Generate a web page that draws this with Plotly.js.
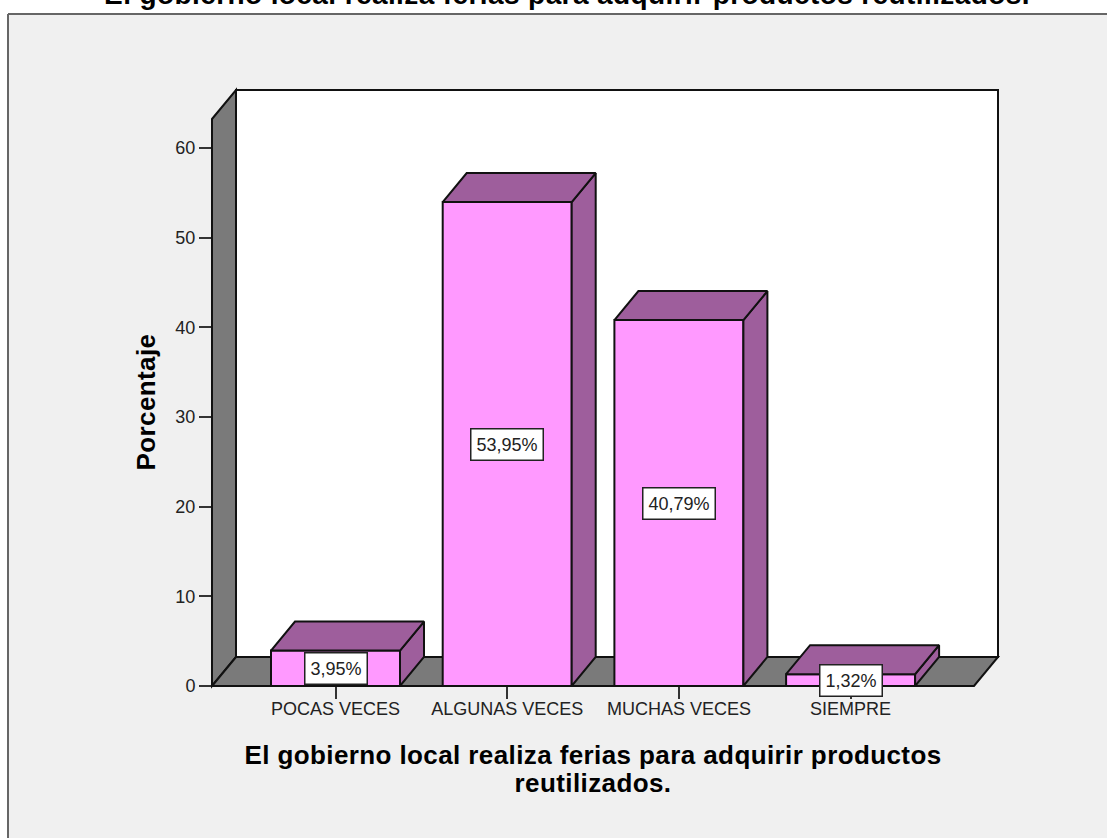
<!DOCTYPE html>
<html>
<head>
<meta charset="utf-8">
<script src="https://cdn.plot.ly/plotly-3.0.1.min.js"></script>
<style>
html,body{margin:0;padding:0;background:#fff;overflow:hidden}#chart{width:1107px;height:839px}
.gtitle,.xtitle,.ytitle{letter-spacing:.4px}
</style>
</head>
<body>
<div id="chart"></div>
<script>
// Data
const categories = ['POCAS VECES', 'ALGUNAS VECES', 'MUCHAS VECES', 'SIEMPRE'];
const percentages = [3.95, 53.95, 40.79, 1.32];
const valueLabels = ['3,95%', '53,95%', '40,79%', '1,32%'];
const yTicks = [0, 10, 20, 30, 40, 50, 60];
const chartTitle = 'El gobierno local realiza ferias para adquirir productos reutilizados.';
const xTitle = 'El gobierno local realiza ferias para adquirir productos<br>reutilizados.';
const yTitle = 'Porcentaje';

// Layout (pixels of the 1107x839 page)
const W = 1107, H = 839;
const plot = {l: 212, r: 998, t: 90, b: 686};
const depthPx = {x: 24, y: 29};
const firstCenterPx = 335.5, stepPx = 171.7, unitPx = 8.97, barPx = 129;

const xMin = (plot.l - firstCenterPx) / stepPx;
const xMax = (plot.r - firstCenterPx) / stepPx;
const yMax = (plot.b - plot.t) / unitPx;
const dx = depthPx.x / stepPx, dy = depthPx.y / unitPx, bw = barPx / stepPx;

const idx = categories.map((_, i) => i);
// paper coordinates are relative to the plot area
const px = v => (v - plot.l) / (plot.r - plot.l), py = v => (plot.b - v) / (plot.b - plot.t);
const poly = pts => 'M' + pts.map(p => px(p[0]).toFixed(5) + ',' + py(p[1]).toFixed(5)).join('L') + 'Z';
const paperShape = (pts, fill, w) => ({type: 'path', xref: 'paper', yref: 'paper', layer: 'below',
  path: poly(pts), fillcolor: fill, line: {color: w ? '#111' : fill, width: w}});

const wallGray = '#7a7a7a', dark = '#111';
const P = plot, D = depthPx;
const shapes = [
  // grey window panel and its frame
  paperShape([[8, 14], [W, 14], [W, 838], [8, 838]], '#f0f0f0', 0),
  {type:'line', xref:'paper', yref:'paper', layer:'below', x0:px(8), x1:px(W), y0:py(14), y1:py(14), line:{color:'#666', width:2}},
  {type:'line', xref:'paper', yref:'paper', layer:'below', x0:px(8), x1:px(8), y0:py(14), y1:py(838), line:{color:'#666', width:2}},
  // back wall, left wall, floor
  paperShape([[P.l + D.x, P.t], [P.r, P.t], [P.r, P.b - D.y], [P.l + D.x, P.b - D.y]], '#ffffff', 2),
  paperShape([[P.l, P.t + D.y], [P.l + D.x, P.t], [P.l + D.x, P.b - D.y], [P.l, P.b]], wallGray, 2),
  paperShape([[P.l, P.b], [P.l + D.x, P.b - D.y], [P.r, P.b - D.y], [P.r - D.x, P.b]], wallGray, 2)
];

const sideX = [], sideY = [], topX = [], topY = [];
idx.forEach(i => {
  const v = percentages[i], x0 = i - bw / 2, x1 = i + bw / 2;
  sideX.push(x1, x1 + dx, x1 + dx, x1, x1, null);
  sideY.push(0, dy, v + dy, v, 0, null);
  topX.push(x0, x0 + dx, x1 + dx, x1, x0, null);
  topY.push(v, v + dy, v + dy, v, v, null);
});

const face = (x, y) => ({type: 'scatter', mode: 'lines', x, y, fill: 'toself', fillcolor: '#9e5e9c',
  line: {color: dark, width: 2}, hoverinfo: 'skip', showlegend: false, cliponaxis: false});

const traces = [
  {type: 'bar', x: idx, y: percentages, width: bw, marker: {color: '#ff99ff', line: {color: dark, width: 2}},
   cliponaxis: false, hoverinfo: 'skip', showlegend: false},
  face(sideX, sideY),
  face(topX, topY)
];

const family = '"Liberation Sans", Arial, sans-serif';
const tickFont = {family, size: 18, color: '#222'};
const boldFont = {family, size: 26, color: '#000', weight: 700};

const annotations = idx.map(i => ({
  x: i, y: percentages[i] / 2, xref: 'x', yref: 'y', text: valueLabels[i], showarrow: false,
  font: {family, size: 18, color: '#222'}, bgcolor: '#fff', bordercolor: '#222',
  borderwidth: 1.5, borderpad: 5
}));

const layout = {
  width: W, height: H, autosize: false,
  margin: {l: plot.l, r: W - plot.r, t: plot.t, b: H - plot.b, pad: 0},
  paper_bgcolor: '#ffffff', plot_bgcolor: 'rgba(0,0,0,0)', showlegend: false,
  title: {text: chartTitle, x: 567 / W, xanchor: 'center', y: 1, yref: 'container', yanchor: 'bottom',
          pad: {b: -4}, font: {family, size: 28, color: '#000', weight: 700}},
  xaxis: {range: [xMin, xMax], tickmode: 'array', tickvals: idx, ticktext: categories, ticks: 'outside',
          ticklen: 12, tickwidth: 2, tickcolor: '#333', tickfont: tickFont, ticklabelstandoff: -6,
          showgrid: false, zeroline: false, showline: false, title: {text: xTitle, font: boldFont, standoff: 28}},
  yaxis: {range: [0, yMax], tickmode: 'array', tickvals: yTicks, ticks: 'outside', ticklen: 12, tickwidth: 2,
          tickcolor: '#333', tickfont: tickFont, showgrid: false, zeroline: false, showline: false,
          title: {text: yTitle, font: boldFont, standoff: 12}},
  shapes, annotations, bargap: 0
};

Plotly.newPlot('chart', traces, layout, {staticPlot: true, displayModeBar: false}).then(gd => {
  // Axis titles sit off the plot centre in the reference, with tighter line spacing
  const xt = gd.querySelector('.xtitle');
  const yt = gd.querySelector('.ytitle');
  if (xt) {
    const lines = xt.querySelectorAll('tspan.line');
    if (lines.length > 1) lines[1].setAttribute('dy', '28');
    xt.setAttribute('transform', 'translate(-12,0) ' + (xt.getAttribute('transform') || ''));
  }
  if (yt) yt.setAttribute('transform', 'translate(0,14) ' + (yt.getAttribute('transform') || ''));
});
</script>
</body>
</html>
